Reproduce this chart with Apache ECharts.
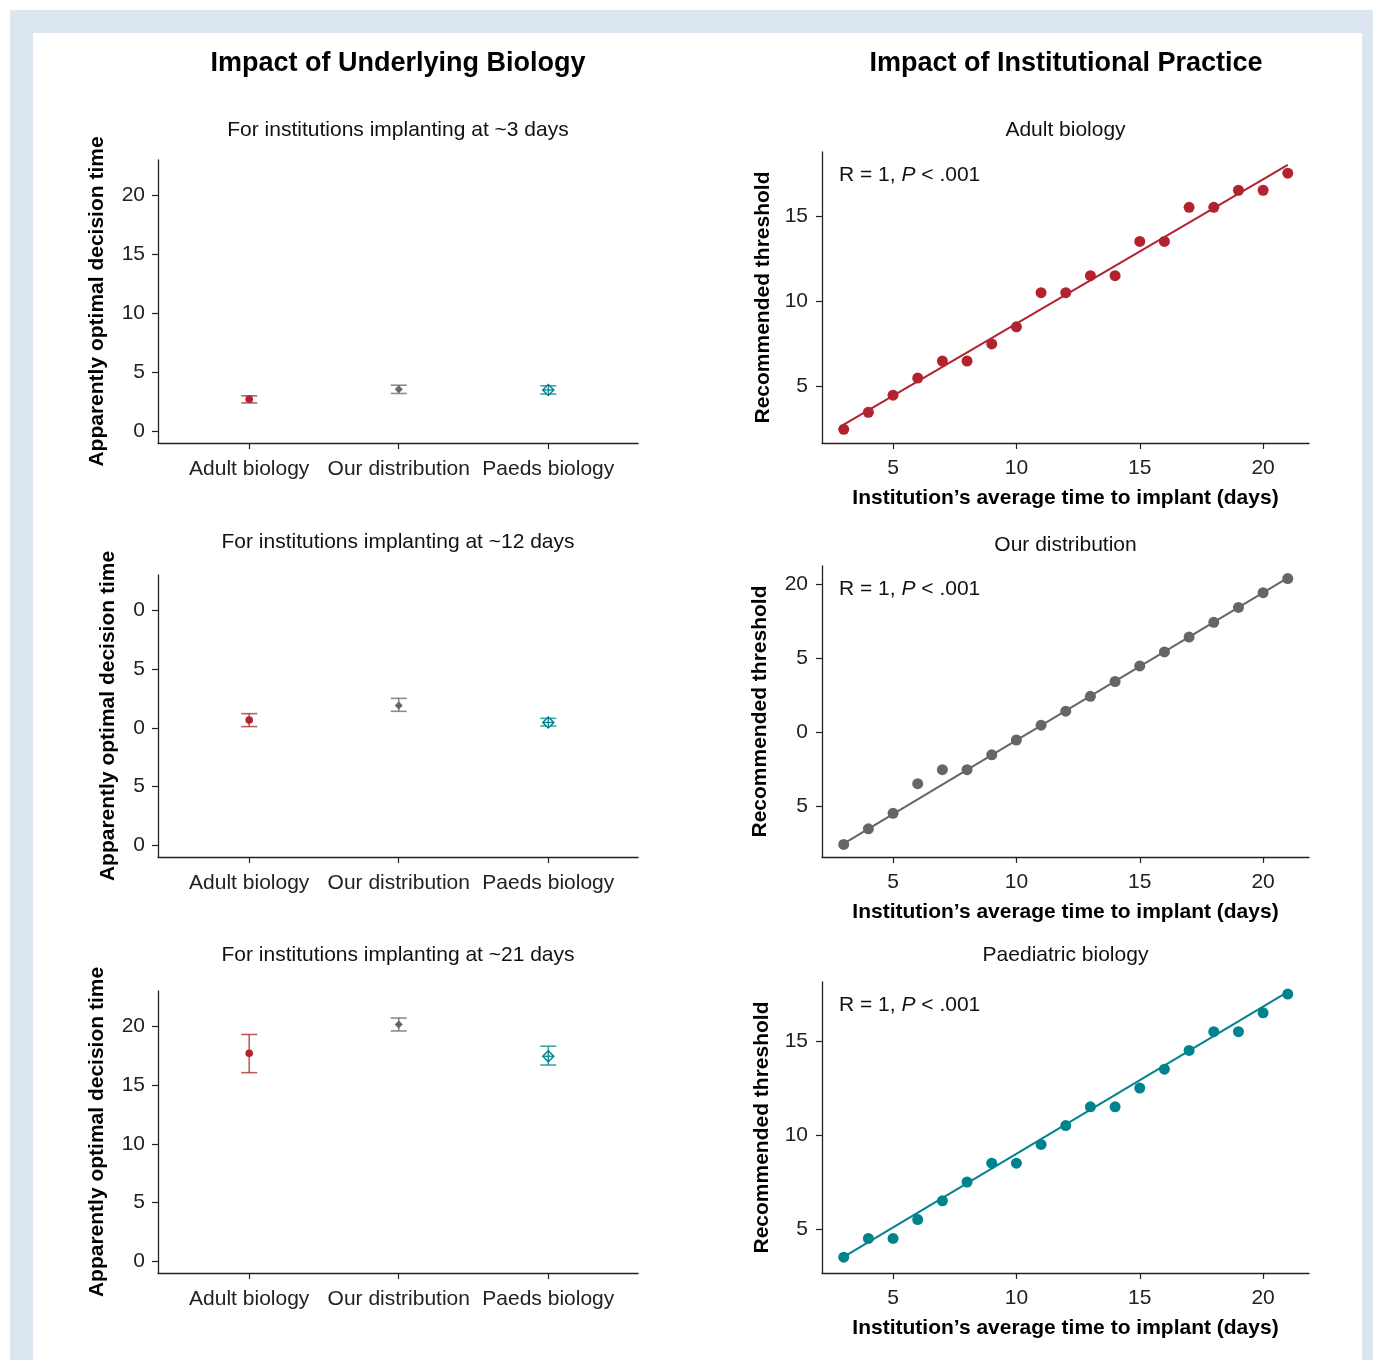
<!DOCTYPE html>
<html>
<head>
<meta charset="utf-8">
<script src="https://cdn.jsdelivr.net/npm/echarts@6/dist/echarts.min.js"></script>
<style>
html,body{margin:0;padding:0;background:#ffffff;}
#outer{position:absolute;left:10px;top:10px;width:1363px;height:1350px;background:#dce6f0;}
#inner{position:absolute;left:33px;top:33px;width:1329px;height:1327px;background:#ffffff;}
#chart{position:absolute;left:0;top:0;width:1373px;height:1360px;}
</style>
</head>
<body>
<div id="outer"></div>
<div id="inner"></div>
<div id="chart"></div>
<script>
// ---------- DATA ----------
const groupNames = ['Adult biology', 'Our distribution', 'Paeds biology'];
const groupColors = ['#b3232f', '#666666', '#00838f'];
const leftTitles = ['For institutions implanting at ~3 days', 'For institutions implanting at ~12 days', 'For institutions implanting at ~21 days'];
// [estimate, lower, upper] per group
const day3Est   = [2.72, 3.55, 3.50];
const day3Low   = [2.40, 3.20, 3.15];
const day3High  = [3.00, 3.90, 3.85];
const day12Est  = [10.65, 11.90, 10.45];
const day12Low  = [10.10, 11.40, 10.15];
const day12High = [11.20, 12.50, 10.80];
const day21Est  = [17.70, 20.15, 17.45];
const day21Low  = [16.05, 19.60, 16.70];
const day21High = [19.30, 20.70, 18.30];
const leftTickValues = [0, 5, 10, 15, 20];
const leftTickLabelsTop    = ['0', '5', '10', '15', '20'];
const leftTickLabelsMiddle = ['0', '5', '0', '5', '0'];
const leftTickLabelsBottom = ['0', '5', '10', '15', '20'];

const rightTitles = ['Adult biology', 'Our distribution', 'Paediatric biology'];
const implantDays = [3,4,5,6,7,8,9,10,11,12,13,14,15,16,17,18,19,20,21];
const adultThreshold = [2.5,3.5,4.5,5.5,6.5,6.5,7.5,8.5,10.5,10.5,11.5,11.5,13.5,13.5,15.5,15.5,16.5,16.5,17.5];
const oursThreshold  = [2.4,3.45,4.5,6.5,7.45,7.45,8.45,9.45,10.45,11.4,12.4,13.4,14.45,15.4,16.4,17.4,18.4,19.4,20.35];
const paedsThreshold = [3.5,4.5,4.5,5.5,6.5,7.5,8.5,8.5,9.5,10.5,11.5,11.5,12.5,13.5,14.5,15.5,15.5,16.5,17.5];
// fitted line endpoints
const adultFit = [[3, 2.78], [21, 17.98]];
const oursFit  = [[3, 2.45], [21, 20.40]];
const paedsFit = [[3, 3.52], [21, 17.62]];
const rightXTicks = [5, 10, 15, 20];
const adultYTicks = [5, 10, 15];
const adultYLabels = ['5', '10', '15'];
const oursYTicks = [5, 10, 15, 20];
const oursYLabels = ['5', '0', '5', '20'];
const paedsYTicks = [5, 10, 15];
const paedsYLabels = ['5', '10', '15'];
const statText = ['R = 1, ', 'P', ' < .001'];

// ---------- LAYOUT ----------
const FONT = '"Liberation Sans", Arial, sans-serif';
const FS = 21;
const AXC = '#222';
const leftGrids = [
  {left: 158, top: 160, width: 480, height: 283},
  {left: 158, top: 575, width: 480, height: 282},
  {left: 158, top: 991, width: 480, height: 282}
];
const rightGrids = [
  {left: 822, top: 152, width: 487, height: 291},
  {left: 822, top: 566, width: 487, height: 291},
  {left: 822, top: 982, width: 487, height: 291}
];
const leftNameGaps = [50, 39, 50];
const rightNameGaps = [48, 51, 49];
const rightYRanges = [[1.7, 18.74], [1.55, 21.2], [2.66, 18.14]];
const rightYTicks = [adultYTicks, oursYTicks, paedsYTicks];
const rightYLabels = [adultYLabels, oursYLabels, paedsYLabels];
const leftLabels = [leftTickLabelsTop, leftTickLabelsMiddle, leftTickLabelsBottom];
const leftSets = [[day3Est, day3Low, day3High], [day12Est, day12Low, day12High], [day21Est, day21Low, day21High]];
const rightSets = [adultThreshold, oursThreshold, paedsThreshold];
const rightFits = [adultFit, oursFit, paedsFit];

const grids = [], xAxes = [], yAxes = [], series = [], graphics = [];

function axisLineCfg() { return {show: true, onZero: false, lineStyle: {color: AXC, width: 1.3}}; }
function tickCfg(vals) { return {show: true, customValues: vals, length: 6, lineStyle: {color: AXC, width: 1.2}}; }

// left panels
leftGrids.forEach((g, i) => {
  grids.push(Object.assign({containLabel: false}, g));
  const gi = grids.length - 1;
  xAxes.push({
    gridIndex: gi, type: 'value', min: 0.39, max: 3.6,
    axisLine: axisLineCfg(), axisTick: tickCfg([1, 2, 3]), splitLine: {show: false},
    axisLabel: {customValues: [1, 2, 3], formatter: v => groupNames[Math.round(v) - 1], color: AXC, fontSize: FS, fontFamily: FONT, margin: 16}
  });
  const labs = leftLabels[i];
  yAxes.push({
    gridIndex: gi, type: 'value', min: -1, max: 23,
    axisLine: axisLineCfg(), axisTick: tickCfg(leftTickValues), splitLine: {show: false},
    axisLabel: {customValues: leftTickValues, formatter: v => labs[leftTickValues.indexOf(v)], color: AXC, fontSize: FS, fontFamily: FONT, margin: 13},
    name: 'Apparently optimal decision time', nameLocation: 'middle', nameGap: leftNameGaps[i],
    nameTextStyle: {fontSize: FS, fontWeight: 'bold', fontFamily: FONT, color: '#000'}
  });
  const set = leftSets[i];
  const data = groupNames.map((n, k) => [k + 1, set[0][k], set[1][k], set[2][k], k]);
  series.push({
    type: 'custom', xAxisIndex: gi, yAxisIndex: gi, data: data,
    encode: {x: 0, y: [1, 2, 3]},
    renderItem: function (params, api) {
      const x = api.value(0), k = api.value(4);
      const pEst = api.coord([x, api.value(1)]);
      const pLow = api.coord([x, api.value(2)]);
      const pHigh = api.coord([x, api.value(3)]);
      const col = groupColors[k];
      const hw = 8;
      const lineStyle = {stroke: col, lineWidth: 1.6, opacity: 0.75};
      const children = [
        {type: 'line', shape: {x1: pLow[0], y1: pLow[1], x2: pHigh[0], y2: pHigh[1]}, style: lineStyle},
        {type: 'line', shape: {x1: pLow[0] - hw, y1: pLow[1], x2: pLow[0] + hw, y2: pLow[1]}, style: lineStyle},
        {type: 'line', shape: {x1: pHigh[0] - hw, y1: pHigh[1], x2: pHigh[0] + hw, y2: pHigh[1]}, style: lineStyle}
      ];
      const cx = pEst[0], cy = pEst[1];
      if (k === 0) {
        children.push({type: 'circle', shape: {cx: cx, cy: cy, r: 3.8}, style: {fill: col}});
      } else if (k === 1) {
        const r = 4;
        children.push({type: 'polygon', shape: {points: [[cx, cy - r], [cx + r, cy], [cx, cy + r], [cx - r, cy]]}, style: {fill: col}});
      } else {
        const r = 5.5;
        children.push({type: 'polygon', shape: {points: [[cx, cy - r], [cx + r, cy], [cx, cy + r], [cx - r, cy]]}, style: {fill: '#fff', stroke: col, lineWidth: 1.5}});
        children.push({type: 'line', shape: {x1: cx - r, y1: cy, x2: cx + r, y2: cy}, style: {stroke: col, lineWidth: 1.3}});
        children.push({type: 'line', shape: {x1: cx, y1: cy - r, x2: cx, y2: cy + r}, style: {stroke: col, lineWidth: 1.3}});
      }
      return {type: 'group', children: children};
    }
  });
  graphics.push({type: 'text', x: g.left + g.width / 2, y: [130, 542, 955][i],
    style: {text: leftTitles[i], font: FS + 'px ' + FONT, fill: '#111', align: 'center', verticalAlign: 'middle'}});
});

// right panels
rightGrids.forEach((g, i) => {
  grids.push(Object.assign({containLabel: false}, g));
  const gi = grids.length - 1;
  xAxes.push({
    gridIndex: gi, type: 'value', min: 2.12, max: 21.86,
    axisLine: axisLineCfg(), axisTick: tickCfg(rightXTicks), splitLine: {show: false},
    axisLabel: {customValues: rightXTicks, color: AXC, fontSize: FS, fontFamily: FONT, margin: 15},
    name: 'Institution\u2019s average time to implant (days)', nameLocation: 'middle', nameGap: 45,
    nameTextStyle: {fontSize: FS, fontWeight: 'bold', fontFamily: FONT, color: '#000'}
  });
  const yt = rightYTicks[i], yl = rightYLabels[i];
  yAxes.push({
    gridIndex: gi, type: 'value', min: rightYRanges[i][0], max: rightYRanges[i][1],
    axisLine: axisLineCfg(), axisTick: tickCfg(yt), splitLine: {show: false},
    axisLabel: {customValues: yt, formatter: v => yl[yt.indexOf(v)], color: AXC, fontSize: FS, fontFamily: FONT, margin: 14},
    name: 'Recommended threshold', nameLocation: 'middle', nameGap: rightNameGaps[i],
    nameTextStyle: {fontSize: FS, fontWeight: 'bold', fontFamily: FONT, color: '#000'}
  });
  const col = groupColors[i];
  series.push({
    type: 'line', xAxisIndex: gi, yAxisIndex: gi, data: rightFits[i], showSymbol: false, symbol: 'none',
    lineStyle: {color: col, width: 2}, silent: true, z: 2
  });
  series.push({
    type: 'scatter', xAxisIndex: gi, yAxisIndex: gi,
    data: implantDays.map((d, k) => [d, rightSets[i][k]]),
    symbol: 'circle', symbolSize: 11, itemStyle: {color: col, opacity: 1}, z: 3
  });
  graphics.push({type: 'text', x: g.left + g.width / 2, y: [130, 545, 955][i],
    style: {text: rightTitles[i], font: FS + 'px ' + FONT, fill: '#111', align: 'center', verticalAlign: 'middle'}});
  graphics.push({type: 'text', x: g.left + 17, y: g.top + 23,
    style: {
      text: '{a|' + statText[0] + '}{b|' + statText[1] + '}{a|' + statText[2] + '}',
      verticalAlign: 'middle', align: 'left',
      rich: {
        a: {fontSize: FS, fontFamily: FONT, fill: '#111', color: '#111'},
        b: {fontSize: FS, fontFamily: FONT, fontStyle: 'italic', fill: '#111', color: '#111'}
      }
    }});
});

graphics.push({type: 'text', x: 398, y: 64,
  style: {text: 'Impact of Underlying Biology', font: 'bold 27px ' + FONT, fill: '#000', align: 'center', verticalAlign: 'middle'}});
graphics.push({type: 'text', x: 1066, y: 64,
  style: {text: 'Impact of Institutional Practice', font: 'bold 27px ' + FONT, fill: '#000', align: 'center', verticalAlign: 'middle'}});

const chart = echarts.init(document.getElementById('chart'), null, {renderer: 'canvas'});
chart.setOption({
  animation: false,
  backgroundColor: 'transparent',
  textStyle: {fontFamily: FONT},
  grid: grids, xAxis: xAxes, yAxis: yAxes, series: series,
  graphic: graphics
});
</script>
</body>
</html>
